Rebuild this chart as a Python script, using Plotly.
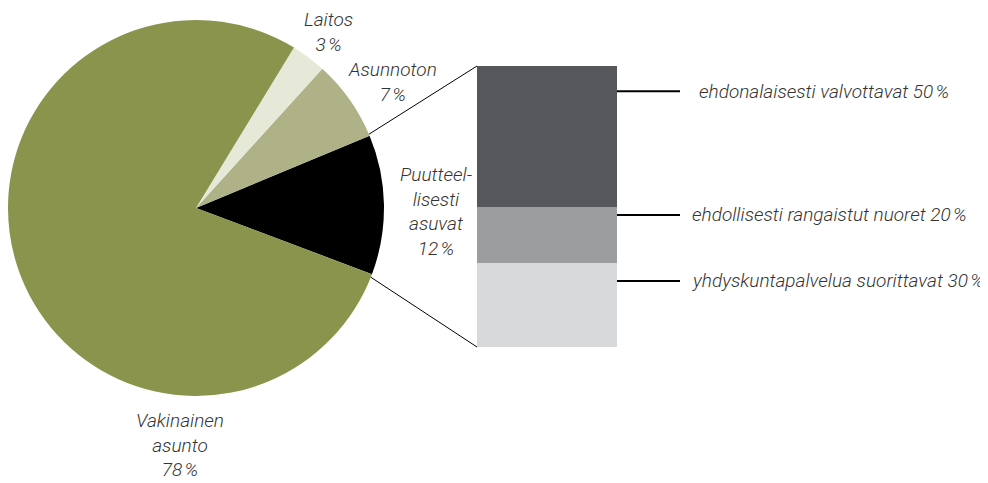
import math
import plotly.graph_objects as go

# ---- data ----
pie_labels = ["Puutteellisesti asuvat", "Asunnoton", "Laitos", "Vakinainen asunto"]
pie_values = [12, 7, 3, 78]
pie_text = ["Puutteel-<br>lisesti<br>asuvat<br>12\u202f%", "Asunnoton<br>7\u202f%", "Laitos<br>3\u202f%",
            "Vakinainen<br>asunto<br>78\u202f%"]

bar_labels = ["yhdyskuntapalvelua suorittavat", "ehdollisesti rangaistut nuoret",
              "ehdonalaisesti valvottavat"]
bar_values = [30, 20, 50]

# ---- style ----
pie_colors = ["#000000", "#aeb286", "#e6e8d8", "#8b944c"]
bar_colors = ["#d7d9da", "#9c9d9f", "#56575b"]
OFF = 8                      # page body margin
W, H = 988 - OFF, 483 - OFF
FONT = dict(family="Roboto, 'Open Sans', sans-serif", size=19, color="#333333",
            style="italic", weight=300)


def px(x):
    return (x - OFF) / W


def py(y):
    return 1 - (y - OFF) / H


# pie geometry (page pixels)
pcx, pcy, pr = 196, 208, 188
half = pie_values[0] / sum(pie_values) * 360 / 2  # black slice centred on the east

fig = go.Figure()
fig.add_trace(go.Pie(
    labels=pie_labels, values=pie_values, sort=False, direction="counterclockwise",
    rotation=90 - half - 1, marker=dict(colors=pie_colors, line=dict(width=0)),
    textinfo="none", hoverinfo="label+percent", showlegend=False,
    domain=dict(x=[px(pcx - pr), px(pcx + pr)], y=[py(pcy + pr), py(pcy - pr)]),
))

for lab, val, col in zip(bar_labels, bar_values, bar_colors):
    fig.add_trace(go.Bar(x=[0], y=[val], name=lab, marker=dict(color=col, line=dict(width=0)),
                         width=1, xaxis="x2", yaxis="y2", showlegend=False))

bx0, bx1, by0, by1 = 477, 617, 66, 347
fig.update_layout(
    width=W, height=H, margin=dict(l=0, r=0, t=0, b=0),
    paper_bgcolor="white", plot_bgcolor="white", barmode="stack",
    xaxis2=dict(domain=[px(bx0), px(bx1)], range=[-0.5, 0.5], visible=False, anchor="y2"),
    yaxis2=dict(domain=[py(by1), py(by0)], range=[0, sum(bar_values)], visible=False,
                anchor="x2"),
    font=FONT,
)


# connector lines from pie edge to bar corners
def edge(deg):
    a = math.radians(deg)
    return px(pcx + pr * math.cos(a)), py(pcy - pr * math.sin(a))


ux, uy = edge(half + 1.5)
lx, ly = edge(-half)
fig.add_shape(type="line", xref="paper", yref="paper", x0=ux, y0=uy, x1=px(bx0), y1=py(by0),
              line=dict(color="black", width=1))
fig.add_shape(type="line", xref="paper", yref="paper", x0=lx, y0=ly, x1=px(bx0), y1=py(by1),
              line=dict(color="black", width=1))

# right-side labels with leader lines
label_y = [23.5, 47, 91]
label_x = [690, 690, 697]
for lab, val, yy, lx_ in zip(bar_labels, bar_values, label_y, label_x):
    fig.add_shape(type="line", xref="paper", yref="y2", x0=px(bx1), x1=px(680), y0=yy, y1=yy,
                  line=dict(color="black", width=2))
    fig.add_annotation(xref="paper", yref="y2", x=px(lx_), y=yy, text=f"{lab} {val}\u202f%",
                       showarrow=False, xanchor="left", yanchor="middle", font=FONT)

# pie labels
pie_label_pos = [(436, 211), (392, 82), (328, 32), (180, 445)]
for txt, (x_, y_) in zip(pie_text, pie_label_pos):
    fig.add_annotation(xref="paper", yref="paper", x=px(x_), y=py(y_), text=txt,
                       showarrow=False, xanchor="center", yanchor="middle", align="center",
                       font=FONT)

fig.write_html("out.html")
